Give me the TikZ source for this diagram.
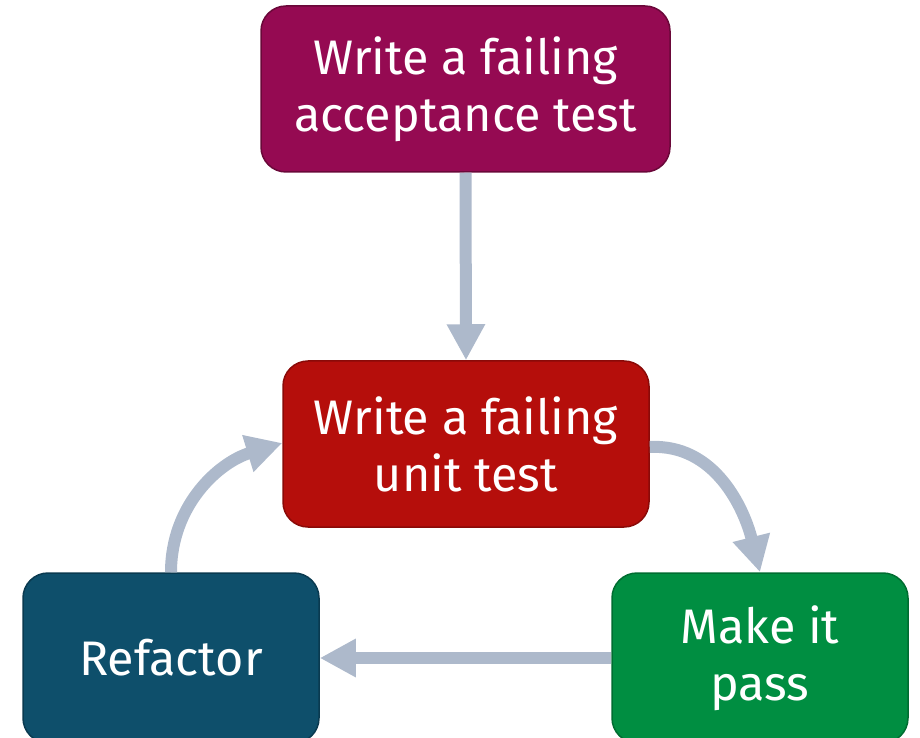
\documentclass[tikz,border=0pt]{standalone}
\usepackage{fontspec}
\setmainfont{Fira Sans}
\usetikzlibrary{arrows.meta}
\definecolor{plum}{HTML}{950A52}
\definecolor{plumd}{HTML}{6A0839}
\definecolor{redb}{HTML}{B50E0B}
\definecolor{redd}{HTML}{8A0A08}
\definecolor{blueb}{HTML}{0E4F6B}
\definecolor{blued}{HTML}{0A3A50}
\definecolor{greenb}{HTML}{008E41}
\definecolor{greend}{HTML}{006D31}
\definecolor{arrowc}{HTML}{ADB9CB}
\begin{document}
\begin{tikzpicture}[x=1pt,y=1pt,
  box/.style={rounded corners=25pt, line width=1.5pt, text=white, align=center,
    font=\fontsize{48.5}{57}\selectfont, inner sep=0pt},
  flow/.style={line width=12pt, draw=arrowc, -{Triangle[width=36pt,length=36pt]}}]
\useasboundingbox (0,0) rectangle (920,737);
\node[box, fill=plum, draw=plumd, minimum width=409pt, minimum height=166pt] (acc) at (465.5,648) {Write a failing\\acceptance test};
\node[box, fill=redb, draw=redd, minimum width=366pt, minimum height=166pt] (unit) at (466,293) {Write a failing\\unit test};
\node[box, fill=blueb, draw=blued, minimum width=296pt, minimum height=170pt] (ref) at (171,79) {Refactor};
\node[box, fill=greenb, draw=greend, minimum width=296pt, minimum height=170pt] (pass) at (760,79) {Make it\\pass};
\draw[flow] (acc.south) -- (unit.north);
\draw[flow] ([yshift=-3pt]unit.east) to[out=3, in=104] (pass.north);
\draw[flow] (pass.west) -- (ref.east);
\draw[flow] (ref.north) to[out=90, in=197] ([yshift=1pt]unit.west);
\end{tikzpicture}
\end{document}
